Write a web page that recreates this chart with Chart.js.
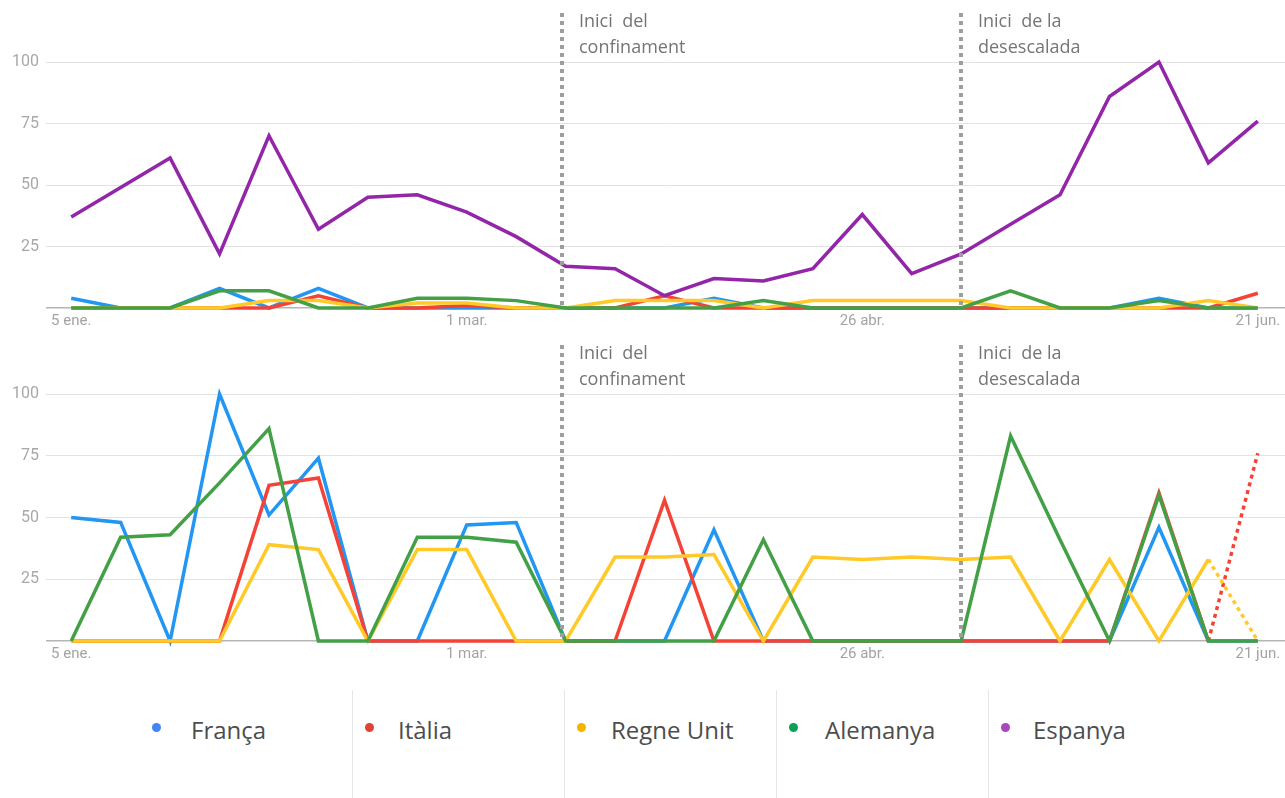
<!DOCTYPE html>
<html>
<head>
<meta charset="utf-8">
<script src="https://cdn.jsdelivr.net/npm/chart.js@4"></script>
<style>
body{margin:0;background:#fff;width:1285px;height:798px;overflow:hidden;position:relative;font-family:"Open Sans",sans-serif}
canvas{position:absolute;left:0}
#topChart{top:0}
#bottomChart{top:330px}
.sep{position:absolute;top:690px;height:108px;width:1px;background:#e6e6e6}
.item{position:absolute;top:713px;font-size:24px;color:#4d4d4d;line-height:34px;white-space:nowrap}
.dot{position:absolute;width:9px;height:9px;border-radius:50%}
</style>
</head>
<body>
<canvas id="topChart" width="1285" height="330"></canvas>
<canvas id="bottomChart" width="1285" height="333"></canvas>
<div id="legend"></div>
<script>
// weekly labels, 5 ene. -> 21 jun.
var weeks = ['5 ene.','12 ene.','19 ene.','26 ene.','2 feb.','9 feb.','16 feb.','23 feb.',
  '1 mar.','8 mar.','15 mar.','22 mar.','29 mar.','5 abr.','12 abr.','19 abr.',
  '26 abr.','3 may.','10 may.','17 may.','24 may.','31 may.','7 jun.','14 jun.','21 jun.'];
var tickIdx = [0, 8, 16, 24];
var yTicks = [0, 25, 50, 75, 100];

// top panel: everything relative to Espanya
var franca1   = [4,0,0,8,0,8,0,0,0,0,0,0,0,4,0,0,0,0,0,0,0,0,4,0,0];
var italia1   = [0,0,0,0,0,5,0,0,1,0,0,0,5,0,0,0,0,0,0,0,0,0,0,0,6];
var regne1    = [0,0,0,0,3,3,0,2,2,0,0,3,3,3,0,3,3,3,3,0,0,0,0,3,0];
var alemanya1 = [0,0,0,7,7,0,0,4,4,3,0,0,0,0,3,0,0,0,0,7,0,0,3,0,0];
var espanya1  = [37,49,61,22,70,32,45,46,39,29,17,16,5,12,11,16,38,14,22,34,46,86,100,59,76];

// bottom panel: each country on its own scale
var franca2   = [50,48,0,100,51,74,0,0,47,48,0,0,0,45,0,0,0,0,0,0,0,0,46,0,0];
var italia2   = [0,0,0,0,63,66,0,0,0,0,0,0,57,0,0,0,0,0,0,0,0,0,60,0,76];
var regne2    = [0,0,0,0,39,37,0,37,37,0,0,34,34,35,0,34,33,34,33,34,0,33,0,33,0];
var alemanya2 = [0,42,43,64,86,0,0,42,42,40,0,0,0,0,41,0,0,0,0,83,41,0,59,0,0];

var markers = [
  {at: 9.93, lines: ['Inici  del', 'confinament']},
  {at: 18, lines: ['Inici  de la', 'desescalada']}
];

var names = ['França', 'Itàlia', 'Regne Unit', 'Alemanya', 'Espanya'];
var lineColors = ['#2196f3', '#f44336', '#ffca28', '#43a047', '#9326a8'];
var dotColors = ['#4285f4', '#db4437', '#f4b400', '#0f9d58', '#ab47bc'];
var drawOrder = [3, 2, 1, 0, 0];

function pts(arr) {
  return arr.map(function(v, i) { return {x: i, y: v}; });
}

function ds(k, arr, dashLast) {
  var d = {
    label: names[k],
    data: pts(arr),
    borderColor: lineColors[k],
    borderWidth: 3.5,
    pointRadius: 0,
    tension: 0,
    fill: false,
    clip: false,
    order: drawOrder[k]
  };
  if (dashLast) {
    d.segment = {borderDash: function(c) { return c.p1DataIndex === arr.length - 1 ? [4, 4] : undefined; }};
  }
  return d;
}

var markerPlugin = {
  id: 'markers',
  afterDatasetsDraw: function(chart) {
    var ctx = chart.ctx, x = chart.scales.x, area = chart.chartArea;
    ctx.save();
    markers.forEach(function(m) {
      var px = Math.round(x.getPixelForValue(m.at));
      ctx.strokeStyle = '#9e9e9e';
      ctx.lineWidth = 4;
      ctx.setLineDash([4, 4]);
      ctx.beginPath();
      ctx.moveTo(px, area.top - 49);
      ctx.lineTo(px, area.bottom);
      ctx.stroke();
      ctx.setLineDash([]);
      ctx.fillStyle = '#757575';
      ctx.font = '18px "Open Sans"';
      ctx.textBaseline = 'middle';
      ctx.textAlign = 'left';
      m.lines.forEach(function(t, j) {
        ctx.fillText(t, px + 17, area.top - 40 + j * 26);
      });
    });
    ctx.restore();
  }
};

function makeChart(id, datasets, padTop) {
  return new Chart(document.getElementById(id), {
    type: 'line',
    data: {datasets: datasets},
    plugins: [markerPlugin],
    options: {
      responsive: false,
      animation: false,
      devicePixelRatio: 1,
      layout: {padding: {top: padTop, left: 0, right: 0, bottom: 0}},
      plugins: {legend: {display: false}, tooltip: {enabled: false}},
      scales: {
        x: {
          type: 'linear',
          min: -0.51,
          max: 24.55,
          afterBuildTicks: function(s) { s.ticks = tickIdx.map(function(v) { return {value: v}; }); },
          afterFit: function(s) { s.height = 22; },
          border: {display: false},
          grid: {display: false, drawTicks: false},
          ticks: {
            padding: 4, maxRotation: 0, autoSkip: false,
            color: '#a3a3a3',
            font: {family: 'Roboto', size: 15},
            callback: function(v) { return weeks[v]; }
          }
        },
        y: {
          min: 0,
          max: 100,
          afterBuildTicks: function(s) { s.ticks = yTicks.map(function(v) { return {value: v}; }); },
          afterFit: function(s) { s.width = 46; },
          border: {display: false},
          grid: {
            drawTicks: false,
            color: function(c) { return c.tick.value === 0 ? '#b5b5b5' : '#e3e3e3'; },
            lineWidth: function(c) { return c.tick.value === 0 ? 1.5 : 1; }
          },
          ticks: {
            padding: 7,
            color: '#a8a8a8',
            font: {family: 'Roboto', size: 16},
            callback: function(v) { return v === 0 ? '' : v; }
          }
        }
      }
    }
  });
}

makeChart('topChart', [
  ds(0, franca1), ds(1, italia1), ds(2, regne1), ds(3, alemanya1), ds(4, espanya1)
], 62);

makeChart('bottomChart', [
  ds(0, franca2), ds(1, italia2, true), ds(2, regne2, true), ds(3, alemanya2)
], 64);

// legend
var legend = document.getElementById('legend');
var sepX = [352, 564, 776, 988];
var dotX = [152, 365, 577, 789, 1001];
var textX = [191, 398, 611, 825, 1033];
sepX.forEach(function(x) {
  var s = document.createElement('div');
  s.className = 'sep';
  s.style.left = x + 'px';
  legend.appendChild(s);
});
names.forEach(function(n, k) {
  var d = document.createElement('div');
  d.className = 'dot';
  d.style.left = dotX[k] + 'px';
  d.style.top = '723px';
  d.style.background = dotColors[k];
  legend.appendChild(d);
  var t = document.createElement('div');
  t.className = 'item';
  t.style.left = textX[k] + 'px';
  t.textContent = n;
  legend.appendChild(t);
});
</script>
</body>
</html>
